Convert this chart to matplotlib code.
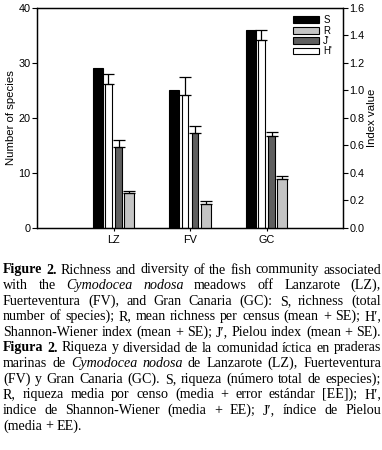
import matplotlib
matplotlib.use("Agg")
import matplotlib.pyplot as plt
import numpy as np
from matplotlib.patches import Patch

# ---------------- data ----------------
sites = ["LZ", "FV", "GC"]
total_richness = [29, 25, 36]            # black bars (left axis)
mean_richness = [26.1, 24.1, 34.2]       # white bars (left axis)
mean_richness_se = [1.8, 3.3, 1.7]
index_dark = [0.59, 0.69, 0.667]         # dark grey bars (right axis)
index_dark_se = [0.045, 0.053, 0.026]
index_light = [0.249, 0.171, 0.353]      # light grey bars (right axis)
index_light_se = [0.015, 0.02, 0.022]
legend_labels = ["S", "R", "J'", "H'"]
left_ticks = [0, 10, 20, 30, 40]
right_ticks = [0.0, 0.2, 0.4, 0.6, 0.8, 1.0, 1.2, 1.4, 1.6]

# ---------------- styles ----------------
W, H = 382, 450
DPI = 100
sans = ["Liberation Sans", "DejaVu Sans"]
serif = ["Liberation Serif", "DejaVu Serif"]
c_black, c_white, c_dark, c_light = "#000000", "#ffffff", "#5f5f5f", "#c4c4c4"

fig = plt.figure(figsize=(W / DPI, H / DPI), dpi=DPI)
ax = fig.add_axes([37 / W, 1 - 227.5 / H, (343 - 37) / W, (227.5 - 8) / H])
ax2 = ax.twinx()

x = np.arange(1, len(sites) + 1)
ekw = dict(ecolor="black", elinewidth=0.9, capthick=0.9)

ax.bar(x - 0.204, total_richness, width=0.13, color=c_black, edgecolor="black", linewidth=0.8)
ax.bar(x - 0.066, mean_richness, width=0.085, color=c_white, edgecolor="black", linewidth=0.8,
       yerr=[np.zeros(3), mean_richness_se], capsize=4.5, error_kw=ekw)
ax2.bar(x + 0.066, index_dark, width=0.085, color=c_dark, edgecolor="black", linewidth=0.8,
        yerr=[np.zeros(3), index_dark_se], capsize=4.5, error_kw=ekw)
ax2.bar(x + 0.204, index_light, width=0.13, color=c_light, edgecolor="black", linewidth=0.8,
        yerr=[np.zeros(3), index_light_se], capsize=4.5, error_kw=ekw)

ax.set_xlim(0, 4)
ax.set_ylim(0, 40)
ax2.set_ylim(0, 1.6)
ax.set_xticks(x)
ax.set_xticklabels(sites, fontfamily=sans, fontsize=7.8)
ax.set_yticks(left_ticks)
ax.set_yticklabels([str(t) for t in left_ticks], fontfamily=sans, fontsize=7.8)
ax2.set_yticks(right_ticks)
ax2.set_yticklabels([f"{t:.1f}" for t in right_ticks], fontfamily=sans, fontsize=7.8)
ax.tick_params(axis="both", direction="out", length=3.5, width=0.8, pad=1.2, colors="black")
ax.tick_params(axis="x", length=2.5, pad=3)
ax2.tick_params(axis="y", direction="out", length=3.5, width=0.8, pad=1.2)
for a in (ax, ax2):
    for s in a.spines.values():
        s.set_linewidth(0.9)

ax.set_ylabel("Number of species", fontfamily=sans, fontsize=8.2, labelpad=2)
ax2.set_ylabel("Index value", fontfamily=sans, fontsize=8.2, labelpad=2)

handles = [Patch(facecolor=c, edgecolor="black", linewidth=0.8)
           for c in (c_black, c_light, c_dark, c_white)]
ax2.legend(handles, legend_labels, loc="upper left", bbox_to_anchor=(0.838, 0.968),
           frameon=False, handlelength=2.6, handleheight=0.7, labelspacing=0.05,
           handletextpad=0.45, borderpad=0, borderaxespad=0,
           prop=dict(family=sans, size=7.0))

# ---------------- caption (justified) ----------------
N, B, I = "normal", "bold", "italic"
caption = [
    ([("Figure 2.", B), ("Richness and diversity of the fish community associated", N)], True),
    ([("with the", N), ("Cymodocea nodosa", I), ("meadows off Lanzarote (LZ),", N)], True),
    ([("Fuerteventura (FV), and Gran Canaria (GC): S, richness (total", N)], True),
    ([("number of species); R, mean richness per census (mean + SE); H\u2032,", N)], True),
    ([("Shannon-Wiener index (mean + SE); J\u2032, Pielou index (mean + SE).", N)], True),
    ([("Figura 2.", B), ("Riqueza y diversidad de la comunidad \u00edctica en praderas", N)], True),
    ([("marinas de", N), ("Cymodocea nodosa", I), ("de Lanzarote (LZ), Fuerteventura", N)], True),
    ([("(FV) y Gran Canaria (GC). S, riqueza (n\u00famero total de especies);", N)], True),
    ([("R, riqueza media por censo (media + error est\u00e1ndar [EE]); H\u2032,", N)], True),
    ([("indice de Shannon-Wiener (media + EE); J\u2032, \u00edndice de Pielou", N)], True),
    ([("(media + EE).", N)], False),
]
x0, x1 = 3.0, 381.0
base0, step = 273.5, 15.6
renderer = fig.canvas.get_renderer()


def text_width(s, size, **kw):
    t = fig.text(0, 0, s, fontfamily=serif, fontsize=size, **kw)
    w = t.get_window_extent(renderer).width
    t.remove()
    return w


# font size chosen so that the densest line (line 4) nearly fills the width
ref_line = caption[3][0][0][0]
fs_cap = 10.0 * (x1 - x0 - 8) / text_width(ref_line, 10.0)
space_nat = text_width("a b", fs_cap) - text_width("ab", fs_cap)

for li, (segs, justify) in enumerate(caption):
    words = []
    for text, style in segs:
        for w in text.split(" "):
            words.append((w, style))
    y = 1 - (base0 + li * step) / H
    arts = []
    for w, style in words:
        kw = dict(fontfamily=serif, fontsize=fs_cap, va="baseline", ha="left", color="black")
        if style == B:
            kw["fontweight"] = "bold"
        if style == I:
            kw["fontstyle"] = "italic"
        arts.append(fig.text(0, y, w, **kw))
    widths = [t.get_window_extent(renderer).width for t in arts]
    if justify and len(arts) > 1:
        gap = (x1 - x0 - sum(widths)) / (len(arts) - 1)
    else:
        gap = space_nat
    xp = x0
    for t, w in zip(arts, widths):
        t.set_x(xp / W)
        xp += w + gap

fig.savefig("out.png", dpi=DPI)
